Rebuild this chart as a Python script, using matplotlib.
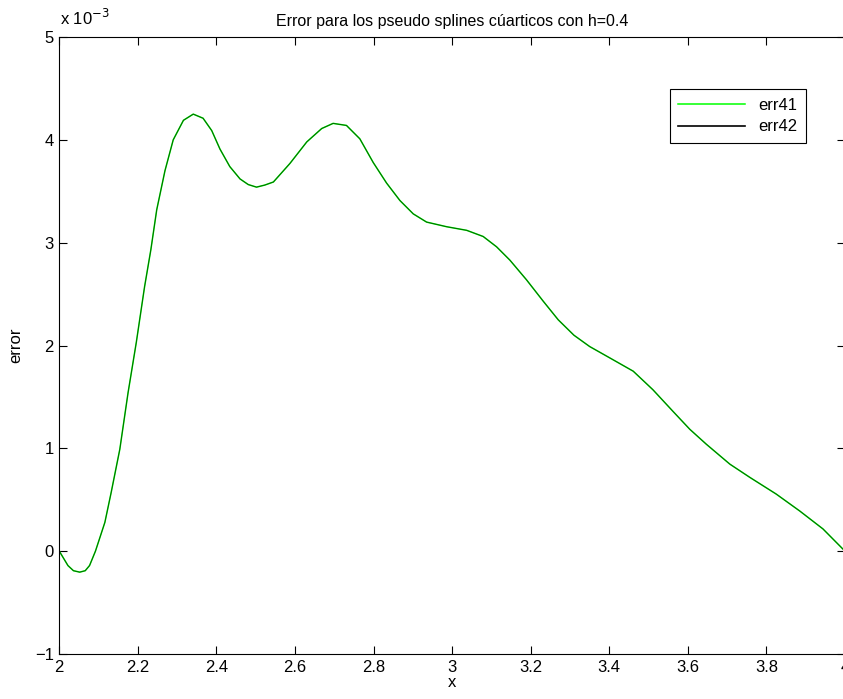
import matplotlib
matplotlib.use("Agg")
import matplotlib.pyplot as plt
import numpy as np

plt.rcParams['font.family'] = ['Liberation Sans', 'DejaVu Sans']

# values (error in units of 1e-3)
x = [2.000, 2.022, 2.036, 2.052, 2.066, 2.077, 2.092, 2.116, 2.132, 2.154,
     2.175, 2.196, 2.217, 2.233, 2.248, 2.269, 2.290, 2.316, 2.341, 2.366,
     2.388, 2.409, 2.434, 2.460, 2.481, 2.502, 2.523, 2.545, 2.587, 2.630,
     2.668, 2.697, 2.731, 2.765, 2.799, 2.833, 2.867, 2.901, 2.935, 2.986,
     3.037, 3.079, 3.113, 3.147, 3.189, 3.232, 3.270, 3.310, 3.350, 3.401,
     3.461, 3.511, 3.562, 3.605, 3.647, 3.707, 3.758, 3.825, 3.885, 3.944,
     4.000]
err41 = [0.00, -0.14, -0.19, -0.204, -0.19, -0.14, 0.00, 0.28, 0.57, 0.99,
         1.54, 2.03, 2.57, 2.93, 3.32, 3.70, 4.00, 4.19, 4.25, 4.21,
         4.09, 3.91, 3.74, 3.62, 3.565, 3.54, 3.56, 3.59, 3.77, 3.98,
         4.11, 4.16, 4.14, 4.01, 3.78, 3.58, 3.41, 3.28, 3.20, 3.155,
         3.12, 3.06, 2.96, 2.83, 2.64, 2.43, 2.25, 2.10, 1.99, 1.88,
         1.75, 1.57, 1.36, 1.185, 1.04, 0.846, 0.717, 0.555, 0.39, 0.216,
         0.00]
err42 = list(err41)

xticks = [2, 2.2, 2.4, 2.6, 2.8, 3, 3.2, 3.4, 3.6, 3.8, 4]
xticklabels = ['2', '2.2', '2.4', '2.6', '2.8', '3', '3.2', '3.4', '3.6', '3.8', '4']
yticks = [-1, 0, 1, 2, 3, 4, 5]
yticklabels = ['\u22121', '0', '1', '2', '3', '4', '5']

W, H = 843, 699
fig = plt.figure(figsize=(W / 100, H / 100), dpi=100)
ax = fig.add_axes([59.3 / W, 45 / H, (845 - 59.3) / W, 617 / H])

ax.plot(x, err41, color='#00ff00', lw=1.1, label='err41', solid_joinstyle='round')
ax.plot(x, err42, color='black', lw=0.7, alpha=0.6, label='err42', solid_joinstyle='round')

ax.set_xlim(2, 4)
ax.set_ylim(-1, 5)
ax.set_xticks(xticks)
ax.set_xticklabels(xticklabels)
ax.set_yticks(yticks)
ax.set_yticklabels(yticklabels)
ax.tick_params(direction='in', top=True, right=True, length=6, width=0.8,
               labelsize=12, pad=4)
for s in ax.spines.values():
    s.set_linewidth(0.8)

ax.set_title('Error para los pseudo splines cúarticos con h=0.4', fontsize=11.5, pad=8)
ax.set_xlabel('x', fontsize=12, labelpad=0)
ax.set_ylabel('error', fontsize=12, labelpad=8)
fig.text(60 / W, 1 - 18 / H, 'x 10$^{-3}$', fontsize=12, ha='left', va='center')

leg = ax.legend(loc='upper right', bbox_to_anchor=((814 - 59.3) / (845 - 59.3), (654 - 81) / 617),
                fontsize=12, fancybox=False, framealpha=1, edgecolor='black',
                handlelength=4, borderpad=0.5, labelspacing=0.4)
leg.get_frame().set_linewidth(0.8)
leg.get_lines()[1].set_alpha(1)
leg.get_lines()[1].set_linewidth(1.2)

fig.savefig('out.png', dpi=100)
